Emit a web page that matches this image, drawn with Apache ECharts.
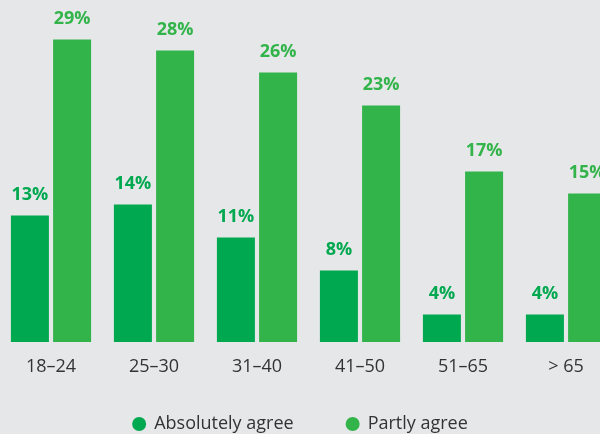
<!DOCTYPE html>
<html><head><meta charset="utf-8">
<script src="https://cdn.jsdelivr.net/npm/echarts@6/dist/echarts.min.js"></script>
<style>html,body{margin:0;padding:0;background:#e6e7e9;}#c{width:600px;height:434px;}</style>
</head><body><div id="c"></div>
<script>
const categories = ['18\u201324', '25\u201330', '31\u201340', '41\u201350', '51\u201365', '> 65'];
const absolutelyAgree = [13, 14, 11, 8, 4, 4];
const partlyAgree = [29, 28, 26, 23, 17, 15];
const seriesNames = ['Absolutely agree', 'Partly agree'];
const colors = ['#00a84f', '#33b44a'];

const chart = echarts.init(document.getElementById('c'));
const lbl = (c) => ({show: true, position: 'top', distance: 12, color: c, fontFamily: 'Open Sans', fontWeight: 'bold', fontSize: 18, formatter: '{c}%'});
chart.setOption({
  backgroundColor: '#e6e7e9',
  animation: false,
  grid: {left: -0.5, top: 6.5, width: 618, height: 335.5, outerBoundsMode: 'none', containLabel: false},
  legend: {
    top: 415, left: 'center', icon: 'circle', itemWidth: 14, itemHeight: 14, itemGap: 52, padding: 0,
    textStyle: {fontFamily: 'Open Sans', fontSize: 18, color: '#333', padding: [0, 0, 0, 3]},
    data: seriesNames
  },
  xAxis: {
    type: 'category', data: categories,
    axisLine: {show: false}, axisTick: {show: false},
    axisLabel: {margin: 16, fontFamily: 'Open Sans', fontSize: 18, color: '#333'}
  },
  yAxis: {type: 'value', min: 1.5, max: 32, show: false, splitLine: {show: false}},
  series: [
    {name: seriesNames[0], type: 'bar', data: absolutelyAgree, barWidth: 38, barGap: '11%', itemStyle: {color: colors[0]}, label: lbl(colors[0])},
    {name: seriesNames[1], type: 'bar', data: partlyAgree, barWidth: 38, itemStyle: {color: colors[1]}, label: lbl(colors[1])}
  ]
});
</script></body></html>
